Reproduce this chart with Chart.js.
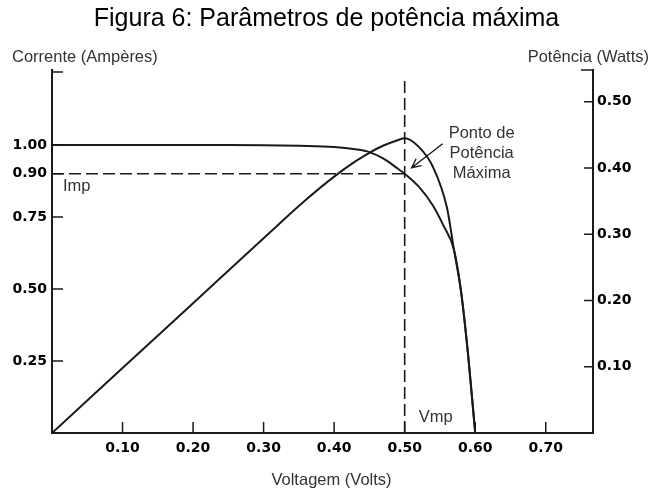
<!DOCTYPE html>
<html>
<head>
<meta charset="utf-8">
<script src="https://cdn.jsdelivr.net/npm/chart.js@4"></script>
<style>
  body { margin: 0; background: #fff; }
  canvas { display: block; }
</style>
</head>
<body>
<canvas id="chart" width="653" height="491"></canvas>
<script>
// Curva I-V da célula (Volts -> Ampères)
var ivVolts = [0, 0.05, 0.10, 0.15, 0.20, 0.25, 0.30, 0.35, 0.40, 0.43, 0.45, 0.47, 0.49, 0.50, 0.52, 0.54, 0.555, 0.57, 0.58, 0.59, 0.60];
var ivAmps = [1.00, 1.00, 1.00, 1.00, 1.00, 1.00, 0.999, 0.997, 0.993, 0.985, 0.975, 0.952, 0.918, 0.90, 0.855, 0.79, 0.72, 0.635, 0.49, 0.27, 0];

// Curva de potência (Volts -> Watts)
var powerVolts = [0, 0.10, 0.20, 0.30, 0.36, 0.40, 0.43, 0.45, 0.47, 0.49, 0.50, 0.52, 0.54, 0.56, 0.57, 0.58, 0.59, 0.60];
var powerWatts = [0, 0.098, 0.196, 0.294, 0.352, 0.387, 0.410, 0.423, 0.434, 0.442, 0.445, 0.432, 0.402, 0.34, 0.276, 0.213, 0.117, 0];

// Ponto de potência máxima
var vmp = 0.50;
var imp = 0.90;
var vmpLineTop = 1.23;

// Marcas dos eixos
var voltTicks = [0.10, 0.20, 0.30, 0.40, 0.50, 0.60, 0.70];
var ampTicks = [0.25, 0.50, 0.75, 0.90, 1.00];
var wattTicks = [0.10, 0.20, 0.30, 0.40, 0.50];

var SANS = "'Liberation Sans', Arial, sans-serif";
var TICK_FONT = { family: "'DejaVu Sans', sans-serif", size: 14, weight: 'bold' };
var INK = '#1a1a1a';

function toPoints(xs, ys) {
  return xs.map(function (x, i) { return { x: x, y: ys[i] }; });
}

function fixedTicks(values) {
  return function (scale) {
    scale.ticks = values.map(function (v) { return { value: v }; });
  };
}

function tickText(value) {
  return value.toFixed(2);
}

// Short tick marks pointing into the plot, plus the little caps on top of the y axes.
var innerTicks = {
  id: 'innerTicks',
  afterDatasetsDraw: function (chart) {
    var ctx = chart.ctx;
    var a = chart.chartArea;
    var s = chart.scales;
    ctx.save();
    ctx.strokeStyle = INK;
    ctx.lineWidth = 1.5;
    ctx.beginPath();
    s.x.ticks.forEach(function (t) {
      var px = s.x.getPixelForValue(t.value);
      ctx.moveTo(px, a.bottom);
      ctx.lineTo(px, a.bottom - 11);
    });
    s.y.ticks.forEach(function (t) {
      var py = s.y.getPixelForValue(t.value);
      ctx.moveTo(a.left, py);
      ctx.lineTo(a.left + 11, py);
    });
    s.y1.ticks.forEach(function (t) {
      var py = s.y1.getPixelForValue(t.value);
      ctx.moveTo(a.right, py);
      ctx.lineTo(a.right - 9, py);
    });
    ctx.moveTo(a.left, a.top + 2);
    ctx.lineTo(a.left + 11, a.top + 2);
    ctx.moveTo(a.right, a.top);
    ctx.lineTo(a.right - 12, a.top);
    ctx.stroke();
    ctx.restore();
  }
};

// Axis titles and the text labels around the maximum power point.
var labels = {
  id: 'labels',
  afterDraw: function (chart) {
    var ctx = chart.ctx;
    var a = chart.chartArea;
    var s = chart.scales;
    var mx = s.x.getPixelForValue(vmp);
    var my = s.y.getPixelForValue(imp);

    ctx.save();
    ctx.fillStyle = '#333';
    ctx.textBaseline = 'middle';
    ctx.font = '16.5px ' + SANS;

    ctx.textAlign = 'left';
    ctx.fillText('Corrente (Ampères)', a.left - 40, a.top - 13);
    ctx.textAlign = 'right';
    ctx.fillText('Potência (Watts)', a.right + 56, a.top - 13);
    ctx.textAlign = 'center';
    ctx.fillText('Voltagem (Volts)', (a.left + a.right) / 2 + 9, a.bottom + 47);

    ctx.textAlign = 'left';
    ctx.fillText('Imp', s.x.getPixelForValue(0) + 11, my + 13);
    ctx.fillText('Vmp', mx + 14, a.bottom - 16);

    // arrow to the maximum power point
    var tipX = mx + 7, tipY = my - 6;
    var tailX = tipX + 31, tailY = tipY - 24;
    var ang = Math.atan2(tipY - tailY, tipX - tailX);
    ctx.strokeStyle = INK;
    ctx.lineWidth = 1.4;
    ctx.beginPath();
    ctx.moveTo(tailX, tailY);
    ctx.lineTo(tipX, tipY);
    ctx.moveTo(tipX - 10 * Math.cos(ang - 0.45), tipY - 10 * Math.sin(ang - 0.45));
    ctx.lineTo(tipX, tipY);
    ctx.lineTo(tipX - 10 * Math.cos(ang + 0.45), tipY - 10 * Math.sin(ang + 0.45));
    ctx.stroke();

    ctx.textAlign = 'center';
    var cx = tipX + 70;
    ctx.fillText('Ponto de', cx, tipY - 34);
    ctx.fillText('Potência', cx, tipY - 14);
    ctx.fillText('Máxima', cx, tipY + 6);
    ctx.restore();
  }
};

var curveStyle = {
  borderColor: INK,
  borderWidth: 2,
  pointRadius: 0,
  fill: false,
  showLine: true,
  cubicInterpolationMode: 'monotone'
};

var dashStyle = {
  borderColor: INK,
  borderWidth: 1.6,
  borderDash: [12, 5],
  pointRadius: 0,
  fill: false,
  showLine: true
};

new Chart(document.getElementById('chart'), {
  type: 'scatter',
  data: {
    datasets: [
      Object.assign({ label: 'Corrente', data: toPoints(ivVolts, ivAmps), yAxisID: 'y' }, curveStyle),
      Object.assign({ label: 'Potência', data: toPoints(powerVolts, powerWatts), yAxisID: 'y1' }, curveStyle),
      Object.assign({ label: 'Imp', data: toPoints([0, vmp], [imp, imp]), yAxisID: 'y' }, dashStyle),
      Object.assign({ label: 'Vmp', data: toPoints([vmp, vmp], [0, vmpLineTop]), yAxisID: 'y' }, dashStyle)
    ]
  },
  options: {
    responsive: false,
    animation: false,
    layout: { padding: 0 },
    plugins: {
      legend: { display: false },
      tooltip: { enabled: false },
      title: {
        display: true,
        text: 'Figura 6: Parâmetros de potência máxima',
        color: '#000',
        font: { family: SANS, size: 25, weight: 'normal' },
        padding: { top: 4, bottom: 36 }
      }
    },
    scales: {
      x: {
        type: 'linear',
        min: 0,
        max: 0.767,
        afterBuildTicks: fixedTicks(voltTicks),
        afterFit: function (scale) { scale.height = 58; },
        grid: { display: true, drawOnChartArea: false, drawTicks: false },
        border: { color: INK, width: 2 },
        ticks: { color: '#000', font: TICK_FONT, padding: 7, maxRotation: 0, callback: tickText }
      },
      y: {
        type: 'linear',
        position: 'left',
        min: 0,
        max: 1.26,
        afterBuildTicks: fixedTicks(ampTicks),
        afterFit: function (scale) { scale.width = 52; },
        grid: { display: true, drawOnChartArea: false, drawTicks: false },
        border: { color: INK, width: 2 },
        ticks: { color: '#000', font: TICK_FONT, padding: 5, callback: tickText }
      },
      y1: {
        type: 'linear',
        position: 'right',
        min: 0,
        max: 0.548,
        afterBuildTicks: fixedTicks(wattTicks),
        afterFit: function (scale) { scale.width = 60; },
        grid: { display: true, drawOnChartArea: false, drawTicks: false },
        border: { color: INK, width: 2 },
        ticks: { color: '#000', font: TICK_FONT, padding: 4, callback: tickText }
      }
    }
  },
  plugins: [innerTicks, labels]
});
</script>
</body>
</html>
